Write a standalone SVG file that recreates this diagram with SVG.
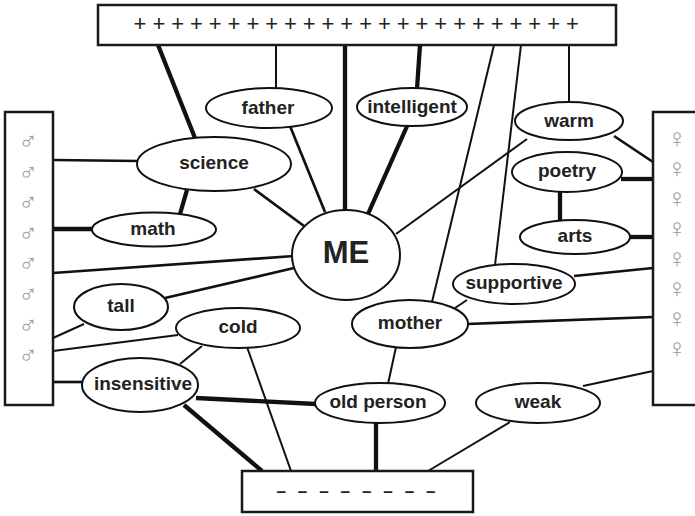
<svg xmlns="http://www.w3.org/2000/svg" width="695" height="516" viewBox="0 0 695 516">
<style>
.box{fill:#fff;stroke:#1a1a1a;stroke-width:2.5}
.node ellipse{fill:#fff;stroke:#111;stroke-width:2}
.node text{font-family:"Liberation Sans",Arial,sans-serif;font-weight:bold;font-size:19px;fill:#222;text-anchor:middle}
#connectors line{stroke:#111;stroke-linecap:butt}
.t1{stroke-width:2}
.t2{stroke-width:2.7}
.t3{stroke-width:4.3}
.sym{font-family:"Liberation Sans",sans-serif;font-size:26px;fill:#a0a0a0;text-anchor:middle}
.mark{font-family:"Liberation Sans",Arial,sans-serif;fill:#222}
</style>
<rect width="695" height="516" fill="#fff"/>
<g id="connectors">
<line class="t3" x1="158" y1="45" x2="195" y2="138"/>
<line class="t1" x1="276" y1="45" x2="276" y2="88"/>
<line class="t3" x1="345" y1="45" x2="345" y2="211"/>
<line class="t3" x1="420" y1="45" x2="417" y2="89"/>
<line class="t1" x1="494" y1="45" x2="432" y2="302"/>
<line class="t1" x1="521" y1="45" x2="495" y2="265"/>
<line class="t1" x1="569" y1="45" x2="569" y2="103"/>
<line class="t2" x1="290" y1="126" x2="325" y2="212"/>
<line class="t2" x1="254" y1="189" x2="304" y2="226"/>
<line class="t3" x1="408" y1="124" x2="368" y2="214"/>
<line class="t1" x1="527" y1="139" x2="396" y2="234"/>
<line class="t2" x1="53" y1="160" x2="139" y2="161"/>
<line class="t3" x1="187" y1="190" x2="180" y2="214"/>
<line class="t3" x1="53" y1="229" x2="93" y2="229"/>
<line class="t2" x1="53" y1="273" x2="294" y2="256"/>
<line class="t2" x1="165" y1="298" x2="294" y2="268"/>
<line class="t1" x1="53" y1="338" x2="84" y2="324"/>
<line class="t1" x1="53" y1="351" x2="178" y2="335"/>
<line class="t2" x1="53" y1="382" x2="83" y2="382"/>
<line class="t1" x1="202" y1="346" x2="180" y2="364"/>
<line class="t1" x1="247" y1="347" x2="291" y2="471"/>
<line class="t3" x1="184" y1="405" x2="262" y2="471"/>
<line class="t3" x1="196" y1="398" x2="316" y2="404"/>
<line class="t3" x1="376" y1="422" x2="376" y2="471"/>
<line class="t1" x1="396" y1="347" x2="388" y2="384"/>
<line class="t1" x1="510" y1="422" x2="428" y2="471"/>
<line class="t1" x1="583" y1="386" x2="653" y2="371"/>
<line class="t2" x1="467" y1="324" x2="653" y2="317"/>
<line class="t2" x1="574" y1="276" x2="653" y2="268"/>
<line class="t1" x1="467" y1="300" x2="455" y2="308"/>
<line class="t2" x1="614" y1="136" x2="653" y2="162"/>
<line class="t3" x1="621" y1="179" x2="653" y2="179"/>
<line class="t3" x1="629" y1="237" x2="653" y2="237"/>
<line class="t3" x1="560" y1="191" x2="560" y2="221"/>
</g>
<g id="plus-box">
<rect class="box" x="98" y="5" width="518" height="40"/>
<text class="mark" x="133.6" y="31" font-size="22" letter-spacing="5.95">++++++++++++++++++++++++</text>
</g>
<g id="minus-box">
<rect class="box" x="242" y="471" width="231" height="41"/>
<text class="mark" x="276.5" y="497" font-size="17" font-weight="bold" letter-spacing="11.9">––––––––</text>
</g>
<g id="male-box">
<rect class="box" x="5" y="112" width="48" height="293"/>
<text class="sym"><tspan x="28" y="150">♂</tspan><tspan x="28" y="181">♂</tspan><tspan x="28" y="211">♂</tspan><tspan x="28" y="242">♂</tspan><tspan x="28" y="272">♂</tspan><tspan x="28" y="303">♂</tspan><tspan x="28" y="334">♂</tspan><tspan x="28" y="364">♂</tspan></text>
</g>
<g id="female-box">
<rect class="box" x="653" y="112" width="60" height="293"/>
<text class="sym"><tspan x="677" y="147">♀</tspan><tspan x="677" y="177">♀</tspan><tspan x="677" y="207">♀</tspan><tspan x="677" y="237">♀</tspan><tspan x="677" y="267">♀</tspan><tspan x="677" y="297">♀</tspan><tspan x="677" y="327">♀</tspan><tspan x="677" y="357">♀</tspan></text>
</g>
<g id="father" class="node"><ellipse cx="269" cy="108" rx="63" ry="20"/><text x="268" y="114">father</text></g>
<g id="intelligent" class="node"><ellipse cx="412" cy="107" rx="55" ry="19"/><text x="412" y="113">intelligent</text></g>
<g id="warm" class="node"><ellipse cx="569" cy="121" rx="54" ry="19"/><text x="569" y="127">warm</text></g>
<g id="science" class="node"><ellipse cx="214" cy="164" rx="77" ry="27"/><text x="214" y="169">science</text></g>
<g id="poetry" class="node"><ellipse cx="567" cy="172" rx="55" ry="20"/><text x="567" y="177">poetry</text></g>
<g id="math" class="node"><ellipse cx="154" cy="229.5" rx="62" ry="17"/><text x="153" y="235">math</text></g>
<g id="arts" class="node"><ellipse cx="575" cy="237" rx="55" ry="17"/><text x="575" y="242">arts</text></g>
<g id="me" class="node"><ellipse cx="346" cy="255" rx="54" ry="45"/><text x="346" y="263" style="font-size:31px">ME</text></g>
<g id="supportive" class="node"><ellipse cx="514" cy="284" rx="61" ry="20"/><text x="514" y="289">supportive</text></g>
<g id="tall" class="node"><ellipse cx="121" cy="307" rx="47" ry="23"/><text x="121" y="312">tall</text></g>
<g id="mother" class="node"><ellipse cx="410" cy="324" rx="58" ry="24"/><text x="410" y="329">mother</text></g>
<g id="cold" class="node"><ellipse cx="238" cy="328" rx="62" ry="20"/><text x="238" y="333">cold</text></g>
<g id="insensitive" class="node"><ellipse cx="140" cy="385" rx="58" ry="27"/><text x="143" y="390">insensitive</text></g>
<g id="old-person" class="node"><ellipse cx="380" cy="403" rx="65" ry="20"/><text x="378" y="408">old person</text></g>
<g id="weak" class="node"><ellipse cx="538" cy="403" rx="62" ry="20"/><text x="538" y="408">weak</text></g>
</svg>
